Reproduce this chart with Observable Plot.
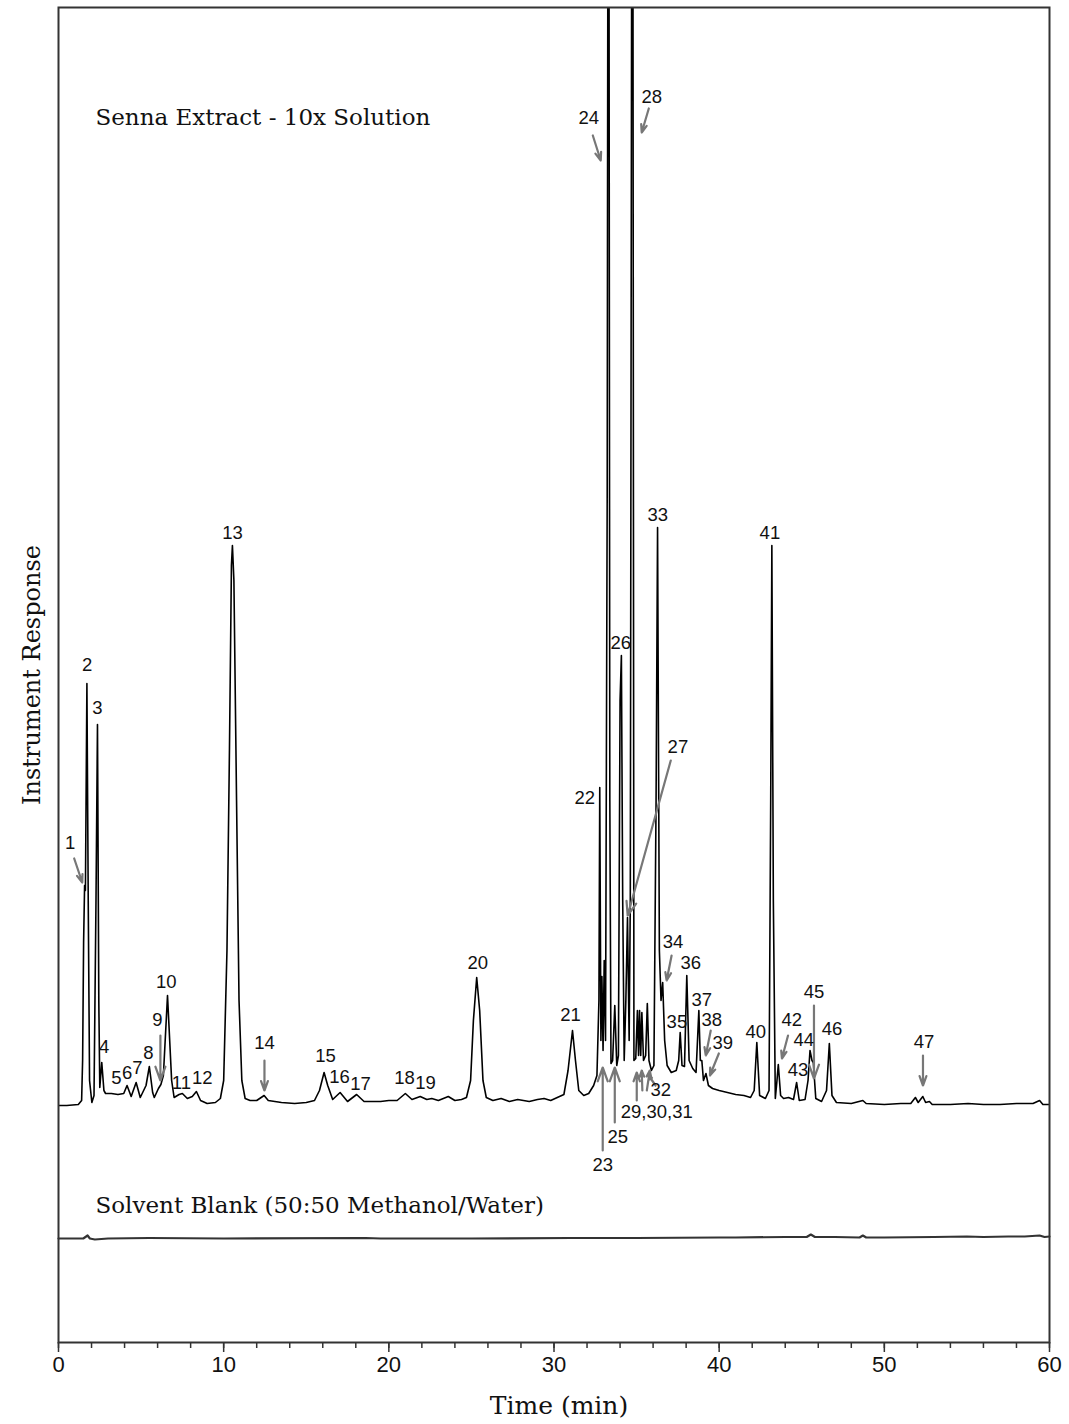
<!DOCTYPE html>
<html><head><meta charset="utf-8">
<script src="https://cdn.jsdelivr.net/npm/d3@7"></script>
<script src="https://cdn.jsdelivr.net/npm/@observablehq/plot@0.6"></script>
<style>body{margin:0;background:#fff}</style>
</head><body><div id="chart"></div>
<script>
// Senna extract trace (time in min, response in arbitrary units above baseline)
const sennaTime = [0,0.5,1.2,1.4,1.46,1.52,1.58,1.63,1.72,1.80,1.88,2.02,2.15,2.27,2.36,2.44,2.50,2.62,2.75,2.85,3.2,3.6,3.95,4.15,4.4,4.7,4.95,5.3,5.5,5.7,5.8,6.05,6.2,6.35,6.6,6.85,7.0,7.3,7.5,7.8,8.1,8.35,8.6,9.0,9.5,9.8,10.0,10.2,10.35,10.47,10.53,10.62,10.78,10.93,11.1,11.3,11.6,12.0,12.45,12.7,13.5,14.3,15.0,15.5,15.8,16.08,16.3,16.6,17.05,17.5,18.05,18.5,19.5,20.0,20.5,21.0,21.4,21.9,22.3,22.6,23.0,23.6,24.0,24.4,24.7,24.95,25.12,25.32,25.5,25.7,25.9,26.3,26.8,27.3,27.8,28.5,29.0,29.4,29.8,30.2,30.6,30.85,31.12,31.3,31.5,31.8,32.1,32.4,32.6,32.72,32.77,32.84,32.9,32.97,33.04,33.12,33.22,33.30,33.38,33.45,33.55,33.68,33.8,33.9,34.0,34.08,34.16,34.25,34.35,34.45,34.55,34.62,34.75,34.84,34.95,35.05,35.12,35.18,35.25,35.32,35.42,35.55,35.65,35.75,35.9,36.05,36.18,36.27,36.38,36.48,36.58,36.7,36.85,37.1,37.4,37.55,37.64,37.75,37.9,38.04,38.18,38.4,38.6,38.77,38.86,38.95,39.05,39.2,39.35,39.6,40.0,40.5,41.0,41.5,41.9,42.12,42.28,42.45,42.8,43.02,43.12,43.19,43.28,43.4,43.5,43.58,43.72,43.9,44.2,44.5,44.69,44.85,45.2,45.38,45.5,45.62,45.7,45.85,46.2,46.5,46.67,46.83,47.1,48.0,48.7,48.9,50.0,51.0,51.6,51.88,52.05,52.33,52.5,52.73,52.9,54.0,55.07,56.0,57.0,58.0,59.0,59.4,59.6,60.0];
const sennaResp = [0,0,1,5,45,163,220,215,422,205,25,3,10,205,381,105,18,43,15,12,12,11,12,20,9,23,8,20,39,13,8,17,21,30,110,25,8,11,12,7,9,14,5,2,3,7,25,155,355,540,560,525,305,105,25,7,5,5,10,5,3,2,3,5,15,33,20,6,13,4,11,4,4,5,5,12,6,9,6,7,5,9,5,6,8,25,85,128,95,25,8,5,7,4,6,4,6,7,5,8,11,35,75,45,15,10,12,20,30,105,318,65,129,55,145,65,605,1700,305,42,45,100,40,50,405,450,205,45,105,188,65,205,1700,45,47,95,50,95,50,93,45,50,102,45,35,40,305,578,155,105,123,65,40,33,35,45,73,40,39,130,45,37,33,95,45,45,25,32,20,17,15,13,11,10,8,15,63,10,7,15,305,560,205,7,25,41,10,7,8,6,23,5,6,25,55,45,43,7,4,15,62,10,3,2,5,2,1,2,2,8,3,9,3,4,1,1,2,1,1,2,2,5,1,1];

// Solvent blank trace (relative to its own baseline)
const blankTime = [0,1.5,1.76,1.9,2.2,2.6,3.0,5.5,10,18.6,19.5,25,31,35,40,41,44,45.3,45.55,45.8,47,48.5,48.7,48.9,50,53,55,56,57.5,58.5,59.4,59.7,60];
const blankResp = [0,0,3,0,-1,-0.5,0,0.5,0,0.5,0,0,0.5,0.5,1,1,1.5,1.5,4,1.5,1.5,1,3,1,1,1.5,2,1.5,2,2,3,1.5,2];
const blankOffset = -133;

// Peak labels
const peakLabels = ["1","2","3","4","5","6","7","8","9","10","11","12","13","14","15","16","17","18","19","20","21","22","23","24","25","26","27","28","29,30,31","32","33","34","35","36","37","38","39","40","41","42","43","44","45","46","47"];
const peakLabelTime = [0.71,1.74,2.35,2.77,3.5,4.16,4.77,5.44,5.98,6.53,7.44,8.71,10.53,12.47,16.16,17.01,18.28,20.95,22.22,25.38,31.0,31.86,32.95,32.1,33.86,34.04,37.5,35.92,36.22,36.47,36.28,37.2,37.44,38.28,38.95,39.55,40.22,42.22,43.07,44.4,44.77,45.12,45.74,46.83,52.4];
const peakLabelResp = [262,440,397,58,27,32,37,52,85,123,22,27,572,62,49,28,21,27,22,142,90,307,-60,987,-32,462,358,1008,-7,15,590,163,83,142,105,85,62,73,572,85,35,65,113,76,63];

// Pointer arrows (from -> to)
const arrowT1 = [0.95,6.17,12.47,32.95,32.35,33.68,37.07,35.74,35.01,35.35,35.62,36.15,37.12,39.49,39.98,44.17,45.74,52.34];
const arrowR1 = [247,70,45,-45,970,-17,345,997,5,15,15,20,150,75,52,70,100,50];
const arrowT2 = [1.44,6.17,12.47,32.95,32.83,33.68,34.46,35.31,35.01,35.31,35.8,35.73,36.82,39.19,39.44,43.8,45.74,52.34];
const arrowR2 = [223,25,15,38,945,38,190,973,33,35,35,30,125,50,30,47,27,20];

const senna = sennaTime.map((t, i) => ({t, r: sennaResp[i]}));
const blank = blankTime.map((t, i) => ({t, r: blankResp[i] + blankOffset}));
const peaks = peakLabels.map((label, i) => ({label, t: peakLabelTime[i], r: peakLabelResp[i]}));
const arrows = arrowT1.map((t1, i) => ({t1, r1: arrowR1[i], t2: arrowT2[i], r2: arrowR2[i]}));

const serif = "'DejaVu Serif', 'Liberation Serif', serif";
const sans = "'Liberation Sans Narrow', 'Liberation Sans', Arial, sans-serif";

const chart = Plot.plot({
  width: 1069,
  height: 1424,
  marginLeft: 58,
  marginRight: 20,
  marginTop: 7,
  marginBottom: 82,
  style: {background: "#fff", fontFamily: sans, fontSize: "22px", color: "#111"},
  x: {domain: [0, 60]},
  y: {domain: [-237, 1098], axis: null},
  marks: [
    Plot.line(blank, {x: "t", y: "r", stroke: "#333", strokeWidth: 2.2}),
    Plot.line(senna, {x: "t", y: "r", stroke: "#000", strokeWidth: 1.6, clip: true}),
    Plot.arrow(arrows, {x1: "t1", y1: "r1", x2: "t2", y2: "r2", stroke: "#777", strokeWidth: 2.2, headLength: 10, headAngle: 40}),
    Plot.text(peaks, {x: "t", y: "r", text: "label", fontFamily: sans, fontSize: 18.5, fill: "#111"}),
    Plot.axisX({ticks: d3.range(0, 61, 2), tickSize: 6, tickFormat: () => "", label: null, stroke: "#333", strokeWidth: 1.5}),
    Plot.axisX({ticks: d3.range(0, 61, 10), tickSize: 10, tickPadding: 4, label: null, stroke: "#333", strokeWidth: 1.5, fontSize: 22}),
    Plot.frame({stroke: "#333", strokeWidth: 2}),
    Plot.text(["Senna Extract - 10x Solution"], {frameAnchor: "top-left", dx: 37, dy: 110, lineAnchor: "middle", fontFamily: serif, fontSize: 23, textAnchor: "start", fill: "#111"}),
    Plot.text(["Solvent Blank (50:50 Methanol/Water)"], {frameAnchor: "top-left", dx: 37, dy: 1198, lineAnchor: "middle", fontFamily: serif, fontSize: 23, textAnchor: "start", fill: "#111"}),
    Plot.text(["Instrument Response"], {frameAnchor: "left", dx: -26, rotate: -90, textAnchor: "middle", lineAnchor: "middle", fontFamily: serif, fontSize: 24, fill: "#111"}),
    Plot.text(["Time (min)"], {frameAnchor: "bottom", dy: 63, dx: 5, lineAnchor: "middle", fontFamily: serif, fontSize: 25, fill: "#111"})
  ]
});
document.getElementById("chart").appendChild(chart);
</script>
</body></html>
